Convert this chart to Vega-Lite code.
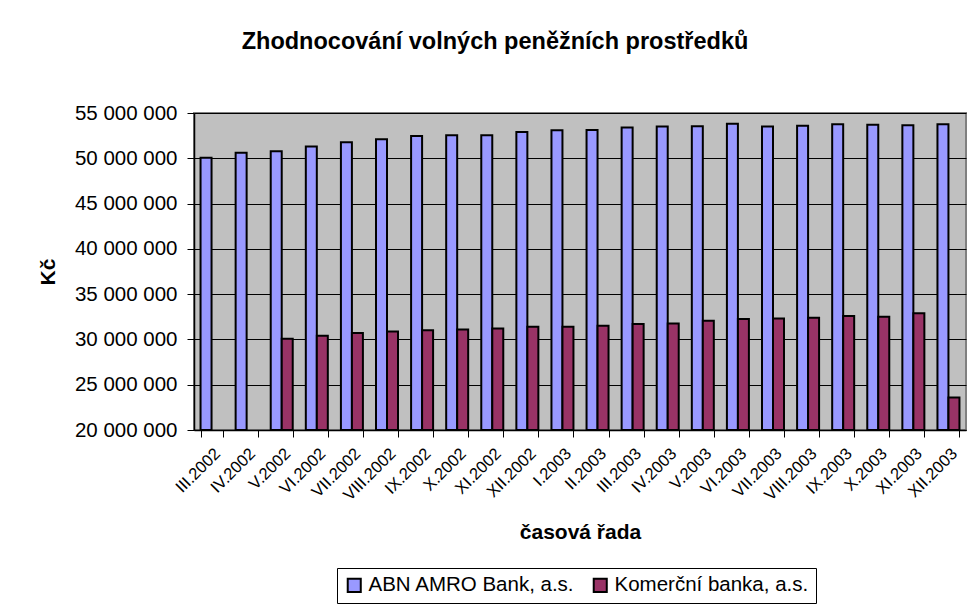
{
  "$schema": "https://vega.github.io/schema/vega-lite/v6.json",
  "autosize": {"type": "none"},
  "padding": {"left": 194, "top": 113, "right": 14, "bottom": 177},
  "width": 772,
  "height": 317,
  "background": "white",
  "title": {
    "text": "Zhodnocování volných peněžních prostředků",
    "font": "Liberation Sans",
    "fontSize": 23.5,
    "fontWeight": "bold",
    "color": "#000",
    "anchor": "middle",
    "dx": -85,
    "offset": 50
  },
  "data": {
    "values": [
      {"month": "III.2002", "bank": "ABN AMRO Bank, a.s.", "value": 50070000},
      {"month": "IV.2002", "bank": "ABN AMRO Bank, a.s.", "value": 50600000},
      {"month": "V.2002", "bank": "ABN AMRO Bank, a.s.", "value": 50770000},
      {"month": "VI.2002", "bank": "ABN AMRO Bank, a.s.", "value": 51290000},
      {"month": "VII.2002", "bank": "ABN AMRO Bank, a.s.", "value": 51770000},
      {"month": "VIII.2002", "bank": "ABN AMRO Bank, a.s.", "value": 52100000},
      {"month": "IX.2002", "bank": "ABN AMRO Bank, a.s.", "value": 52470000},
      {"month": "X.2002", "bank": "ABN AMRO Bank, a.s.", "value": 52540000},
      {"month": "XI.2002", "bank": "ABN AMRO Bank, a.s.", "value": 52540000},
      {"month": "XII.2002", "bank": "ABN AMRO Bank, a.s.", "value": 52900000},
      {"month": "I.2003", "bank": "ABN AMRO Bank, a.s.", "value": 53100000},
      {"month": "II.2003", "bank": "ABN AMRO Bank, a.s.", "value": 53130000},
      {"month": "III.2003", "bank": "ABN AMRO Bank, a.s.", "value": 53400000},
      {"month": "IV.2003", "bank": "ABN AMRO Bank, a.s.", "value": 53500000},
      {"month": "V.2003", "bank": "ABN AMRO Bank, a.s.", "value": 53550000},
      {"month": "VI.2003", "bank": "ABN AMRO Bank, a.s.", "value": 53800000},
      {"month": "VII.2003", "bank": "ABN AMRO Bank, a.s.", "value": 53500000},
      {"month": "VIII.2003", "bank": "ABN AMRO Bank, a.s.", "value": 53600000},
      {"month": "IX.2003", "bank": "ABN AMRO Bank, a.s.", "value": 53750000},
      {"month": "X.2003", "bank": "ABN AMRO Bank, a.s.", "value": 53700000},
      {"month": "XI.2003", "bank": "ABN AMRO Bank, a.s.", "value": 53650000},
      {"month": "XII.2003", "bank": "ABN AMRO Bank, a.s.", "value": 53750000},
      {"month": "V.2002", "bank": "Komerční banka, a.s.", "value": 30070000},
      {"month": "VI.2002", "bank": "Komerční banka, a.s.", "value": 30400000},
      {"month": "VII.2002", "bank": "Komerční banka, a.s.", "value": 30700000},
      {"month": "VIII.2002", "bank": "Komerční banka, a.s.", "value": 30870000},
      {"month": "IX.2002", "bank": "Komerční banka, a.s.", "value": 31000000},
      {"month": "X.2002", "bank": "Komerční banka, a.s.", "value": 31100000},
      {"month": "XI.2002", "bank": "Komerční banka, a.s.", "value": 31200000},
      {"month": "XII.2002", "bank": "Komerční banka, a.s.", "value": 31400000},
      {"month": "I.2003", "bank": "Komerční banka, a.s.", "value": 31400000},
      {"month": "II.2003", "bank": "Komerční banka, a.s.", "value": 31500000},
      {"month": "III.2003", "bank": "Komerční banka, a.s.", "value": 31700000},
      {"month": "IV.2003", "bank": "Komerční banka, a.s.", "value": 31770000},
      {"month": "V.2003", "bank": "Komerční banka, a.s.", "value": 32060000},
      {"month": "VI.2003", "bank": "Komerční banka, a.s.", "value": 32250000},
      {"month": "VII.2003", "bank": "Komerční banka, a.s.", "value": 32300000},
      {"month": "VIII.2003", "bank": "Komerční banka, a.s.", "value": 32400000},
      {"month": "IX.2003", "bank": "Komerční banka, a.s.", "value": 32600000},
      {"month": "X.2003", "bank": "Komerční banka, a.s.", "value": 32500000},
      {"month": "XI.2003", "bank": "Komerční banka, a.s.", "value": 32900000},
      {"month": "XII.2003", "bank": "Komerční banka, a.s.", "value": 23600000}
    ]
  },
  "mark": {"type": "bar", "stroke": "#000", "strokeWidth": 2},
  "encoding": {
    "x": {
      "field": "month",
      "type": "nominal",
      "sort": null,
      "scale": {"paddingInner": 0.373, "paddingOuter": 0.1865},
      "axis": {
        "title": "časová řada",
        "titleFontSize": 21,
        "titleFont": "Liberation Sans",
        "titleFontWeight": "bold",
        "titleColor": "#000",
        "titlePadding": 18,
        "labelAngle": -45,
        "labelFontSize": 16.5,
        "labelFont": "Liberation Sans",
        "labelColor": "#000",
        "labelPadding": 8,
        "labelLimit": 0,
        "tickBand": "extent",
        "tickSize": 7,
        "tickColor": "#000",
        "domainColor": "#000",
        "domainWidth": 1.5,
        "grid": false
      }
    },
    "xOffset": {
      "field": "bank",
      "type": "nominal",
      "scale": {"paddingInner": 0, "paddingOuter": 0}
    },
    "y": {
      "field": "value",
      "type": "quantitative",
      "scale": {"domain": [20000000, 55000000], "nice": false, "zero": false},
      "axis": {
        "title": "Kč",
        "titleFontSize": 21,
        "titleFont": "Liberation Sans",
        "titleFontWeight": "bold",
        "titleColor": "#000",
        "titlePadding": 16,
        "values": [20000000, 25000000, 30000000, 35000000, 40000000, 45000000, 50000000, 55000000],
        "labelExpr": "replace(replace(format(datum.value, ',d'), ',', ' '), ',', ' ')",
        "labelFontSize": 20.5,
        "labelFont": "Liberation Sans",
        "labelColor": "#000",
        "labelPadding": 10,
        "tickSize": 7,
        "tickColor": "#000",
        "domainColor": "#000",
        "domainWidth": 1.5,
        "grid": true,
        "gridColor": "#000",
        "gridWidth": 1
      }
    },
    "y2": {"datum": 20000000},
    "color": {
      "field": "bank",
      "type": "nominal",
      "scale": {
        "domain": ["ABN AMRO Bank, a.s.", "Komerční banka, a.s."],
        "range": ["#9999FF", "#993366"]
      },
      "legend": {
        "title": null,
        "orient": "none",
        "legendX": 143,
        "legendY": 455,
        "direction": "horizontal",
        "strokeColor": "#000",
        "fillColor": "#fff",
        "padding": 7,
        "symbolType": "square",
        "symbolSize": 170,
        "symbolStrokeColor": "#000",
        "symbolStrokeWidth": 2,
        "symbolOpacity": 1,
        "labelFontSize": 20.5,
        "labelFont": "Liberation Sans",
        "labelColor": "#000",
        "labelOffset": 4,
        "labelLimit": 0,
        "columnPadding": 14
      }
    }
  },
  "config": {
    "view": {"fill": "#C0C0C0", "stroke": "#808080", "strokeWidth": 2},
    "font": "Liberation Sans"
  }
}
